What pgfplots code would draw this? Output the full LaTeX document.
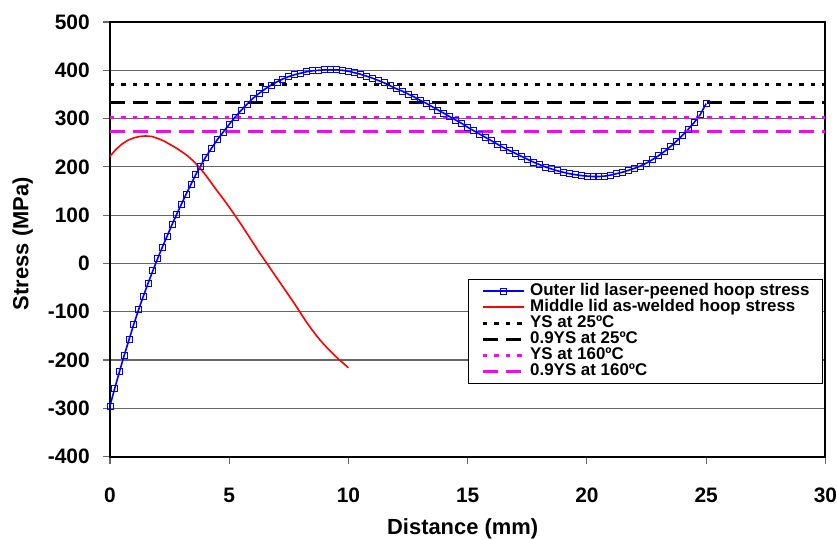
\documentclass[border=0pt]{standalone}
\usepackage{pgfplots}
\pgfplotsset{compat=1.18}
\usepackage{fontspec}
\setmainfont{Liberation Sans}
\definecolor{mag}{RGB}{255,0,255}
\definecolor{bl}{RGB}{0,0,255}
\definecolor{rd}{RGB}{255,0,0}
\begin{document}
\begin{tikzpicture}
\begin{axis}[
  scale only axis, width=716bp, height=435bp,
  at={(0,0)}, anchor=south west,
  xmin=0, xmax=30, ymin=-400, ymax=500,
  xtick={0,5,...,30}, ytick={-400,-300,...,500},
  ymajorgrids, grid style={black!60, line width=1.2bp},
  axis line style={black, line width=1.8bp},
  tick align=outside, tick pos=left, major tick length=7bp,
  tick style={black!60, line width=1.2bp},
  /pgf/number format/assume math mode=true,
  ticklabel style={font=\fontsize{21}{21}\selectfont\bfseries},
  xticklabel style={anchor=base, inner sep=0pt, yshift=-39bp},
  yticklabel style={anchor=east, inner sep=0pt, xshift=-13bp},
  xlabel={Distance (mm)},
  every axis x label/.style={font=\fontsize{22}{22}\selectfont\bfseries, at={(rel axis cs:0.493,-0.1793)}, anchor=base, inner sep=0pt},
  ylabel={Stress (MPa)},
  every axis y label/.style={font=\fontsize{22}{22}\selectfont\bfseries, at={(rel axis cs:-0.1075,0.49)}, rotate=90, anchor=south, inner sep=0pt},
  clip=false,
  legend cell align=left,
  legend image code/.code={\draw[mark repeat=2,mark phase=2,#1] plot coordinates {(0bp,0bp) (20.5bp,0bp) (41bp,0bp)};},
  legend style={at={(rel axis cs:0.5,0.409)}, anchor=north west,
    draw=black, line width=0.8bp, inner xsep=13bp, inner ysep=4bp,
    font=\fontsize{17}{16}\selectfont\bfseries,
    nodes={inner sep=0pt, text height=12bp, text depth=4bp},
    /tikz/every odd column/.append style={column sep=5bp},
    /tikz/every even column/.append style={column sep=-25bp}},
]
\addplot[bl, line width=1.6bp, mark=square, mark size=3bp, mark options={solid, line width=0.7bp, draw=bl}] coordinates {
(0.0,-295) (0.2,-259) (0.4,-224) (0.6,-190) (0.8,-158) (1.0,-126) (1.2,-96) (1.4,-68) (1.6,-41) (1.8,-15)
(2.0,10) (2.2,34) (2.4,57) (2.6,80) (2.8,102) (3.0,123) (3.2,144) (3.4,164) (3.6,184) (3.8,202) (4.0,219)
(4.25,238) (4.5,256) (4.75,272) (5.0,288) (5.25,303) (5.5,317) (5.75,330) (6.0,342) (6.25,352) (6.5,361)
(6.75,369) (7.0,376) (7.25,382) (7.5,387) (7.75,391) (8.0,394) (8.25,397) (8.5,399) (8.75,400) (9.0,401)
(9.25,401) (9.5,401) (9.75,400) (10.0,398) (10.25,395) (10.5,392) (10.75,388) (11.0,384) (11.25,379)
(11.5,374) (11.75,368) (12.0,362) (12.25,357) (12.5,351) (12.75,345) (13.0,338) (13.25,332) (13.5,325)
(13.75,318) (14.0,311) (14.25,304) (14.5,297) (14.75,290) (15.0,282) (15.25,275) (15.5,268) (15.75,261)
(16.0,254) (16.25,247) (16.5,240) (16.75,234) (17.0,228) (17.25,222) (17.5,216) (17.75,210) (18.0,205)
(18.25,200) (18.5,196) (18.75,192) (19.0,189) (19.25,186) (19.5,184) (19.75,182) (20.0,181) (20.25,180)
(20.5,180) (20.75,181) (21.0,183) (21.25,186) (21.5,189) (21.75,193) (22.0,197) (22.25,202) (22.5,208)
(22.75,215) (23.0,223) (23.25,232) (23.5,242) (23.75,253) (24.0,265) (24.25,278) (24.5,292) (24.75,308) (25.0,331)
};
\addlegendentry{Outer lid laser-peened hoop stress}
\addplot[rd, line width=1.6bp] coordinates {
(0,222) (0.25,236) (0.5,247) (0.75,255) (1.0,260) (1.25,263) (1.5,264) (1.75,263) (2.0,259) (2.25,254)
(2.5,247) (2.75,240) (3.0,232) (3.25,223) (3.5,212) (3.75,199) (4.0,184) (4.25,167) (4.5,150) (4.75,134)
(5.0,117) (5.25,99) (5.5,81) (5.75,62) (6.0,43) (6.25,24) (6.5,6) (6.75,-12) (7.0,-30) (7.25,-48)
(7.5,-66) (7.75,-84) (8.0,-103) (8.25,-122) (8.5,-139) (8.75,-155) (9.0,-169) (9.25,-182) (9.5,-194)
(9.75,-205) (10.0,-216)
};
\addlegendentry{Middle lid as-welded hoop stress}
\addplot[black, line width=3.2bp, dash pattern=on 4.5bp off 7bp] coordinates {(0,370) (30,370)};
\addlegendentry{YS at 25ºC}
\addplot[black, line width=3.2bp, dash pattern=on 15bp off 8bp] coordinates {(0,333) (30,333)};
\addlegendentry{0.9YS at 25ºC}
\addplot[mag, line width=3.2bp, dash pattern=on 4.5bp off 7bp] coordinates {(0,303) (30,303)};
\addlegendentry{YS at 160ºC}
\addplot[mag, line width=3.2bp, dash pattern=on 15bp off 8bp] coordinates {(0,273) (30,273)};
\addlegendentry{0.9YS at 160ºC}
\end{axis}
\path (-110bp,-82bp) rectangle (727bp,457bp);
\end{tikzpicture}
\end{document}
